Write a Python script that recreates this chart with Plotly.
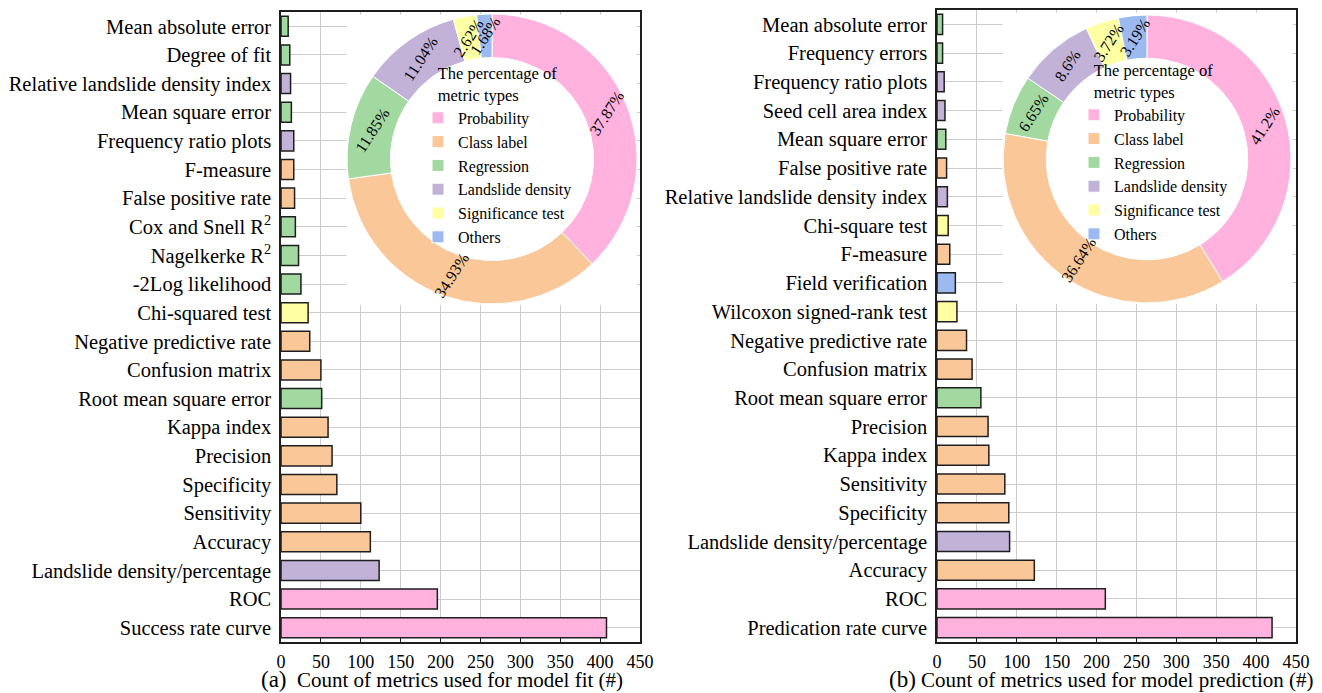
import math
import plotly.graph_objects as go

# ---------------- data ----------------
fit_metrics = [
    "Mean absolute error", "Degree of fit", "Relative landslide density index",
    "Mean square error", "Frequency ratio plots", "F-measure", "False positive rate",
    "Cox and Snell R<sup>2</sup>", "Nagelkerke R<sup>2</sup>", "-2Log likelihood",
    "Chi-squared test", "Negative predictive rate", "Confusion matrix",
    "Root mean square error", "Kappa index", "Precision", "Specificity",
    "Sensitivity", "Accuracy", "Landslide density/percentage", "ROC",
    "Success rate curve",
]
fit_counts = [9, 11, 12, 13, 16, 16, 17, 18, 22, 25, 34, 36, 50, 51, 59, 64, 70,
              100, 112, 123, 196, 408]
fit_types = [
    "Regression", "Regression", "Landslide density", "Regression", "Landslide density",
    "Class label", "Class label", "Regression", "Regression", "Regression",
    "Significance test", "Class label", "Class label", "Regression", "Class label",
    "Class label", "Class label", "Class label", "Class label", "Landslide density",
    "Probability", "Probability",
]

pred_metrics = [
    "Mean absolute error", "Frequency errors", "Frequency ratio plots",
    "Seed cell area index", "Mean square error", "False positive rate",
    "Relative landslide density index", "Chi-square test", "F-measure",
    "Field verification", "Wilcoxon signed-rank test", "Negative predictive rate",
    "Confusion matrix", "Root mean square error", "Precision", "Kappa index",
    "Sensitivity", "Specificity", "Landslide density/percentage", "Accuracy", "ROC",
    "Predication rate curve",
]
pred_counts = [7, 7, 9, 10, 11, 12, 13, 14, 16, 23, 25, 37, 44, 55, 64, 65, 85, 90,
               91, 122, 211, 420]
pred_types = [
    "Regression", "Regression", "Landslide density", "Landslide density", "Regression",
    "Class label", "Landslide density", "Significance test", "Class label", "Others",
    "Significance test", "Class label", "Class label", "Regression", "Class label",
    "Class label", "Class label", "Class label", "Landslide density", "Class label",
    "Probability", "Probability",
]

type_names = ["Probability", "Class label", "Regression", "Landslide density",
              "Significance test", "Others"]
type_colors = ["#FFB2DD", "#FAC898", "#A2D9A0", "#C3B2D8", "#FFFFA4", "#9DBAF0"]
fit_share = [37.87, 34.93, 11.85, 11.04, 2.62, 1.68]
pred_share = [41.2, 36.64, 6.65, 8.6, 3.72, 3.19]

x_ticks = [0, 50, 100, 150, 200, 250, 300, 350, 400, 450]

# ---------------- layout geometry ----------------
W, H = 1322, 693
FONT = "Liberation Serif"
color_of = dict(zip(type_names, type_colors))


def px_x(p):
    return p / W


def px_y(p):
    return 1 - p / H


fig = go.Figure()

fig.add_trace(go.Bar(
    x=fit_counts, y=fit_metrics, orientation="h", width=0.7,
    marker=dict(color=[color_of[t] for t in fit_types],
                line=dict(color="#1e1e1e", width=1.5)),
    showlegend=False, xaxis="x", yaxis="y", hoverinfo="x+y",
))
fig.add_trace(go.Bar(
    x=pred_counts, y=pred_metrics, orientation="h", width=0.7,
    marker=dict(color=[color_of[t] for t in pred_types],
                line=dict(color="#1e1e1e", width=1.5)),
    showlegend=False, xaxis="x2", yaxis="y2", hoverinfo="x+y",
))

# donut geometry (pixels)
pies = [
    dict(share=fit_share, cx=492, cy=159, r=145, legend="legend", group="fit"),
    dict(share=pred_share, cx=1147, cy=159, r=144, legend="legend2", group="pred"),
]
HOLE = 0.70
annotations = []
for p in pies:
    fig.add_trace(go.Pie(
        labels=type_names, values=p["share"], hole=HOLE, sort=False,
        direction="clockwise", rotation=0,
        marker=dict(colors=type_colors, line=dict(color="white", width=1)),
        textinfo="none", hoverinfo="label+value",
        domain=dict(x=[px_x(p["cx"] - p["r"]), px_x(p["cx"] + p["r"])],
                    y=[px_y(p["cy"] + p["r"]), px_y(p["cy"] - p["r"])]),
        legend=p["legend"], legendgroup=p["group"], showlegend=True,
    ))
    # percentage labels, placed at the middle of each ring segment
    total = sum(p["share"])
    cum = 0.0
    rmid = p["r"] * (1 + HOLE) / 2
    for s in p["share"]:
        ang = (cum + s / 2) / total * 2 * math.pi
        cum += s
        annotations.append(dict(
            x=px_x(p["cx"] + rmid * math.sin(ang)),
            y=px_y(p["cy"] - rmid * math.cos(ang)),
            xref="paper", yref="paper", xanchor="center", yanchor="middle",
            text=f"{s}%", textangle=-57, showarrow=False,
            font=dict(family=FONT, size=16, color="black"),
        ))

annotations.append(dict(
    x=px_x(442), y=px_y(679), xref="paper", yref="paper", showarrow=False,
    xanchor="center", yanchor="middle",
    text="<span style='font-size:23px'>(a)</span>  Count of metrics used for model fit (#)",
    font=dict(family=FONT, size=21, color="black"),
))
annotations.append(dict(
    x=px_x(1101), y=px_y(679), xref="paper", yref="paper", showarrow=False,
    xanchor="center", yanchor="middle",
    text="<span style='font-size:23px'>(b)</span> Count of metrics used for model prediction (#)",
    font=dict(family=FONT, size=21, color="black"),
))

axis_common = dict(showline=True, linecolor="#1e1e1e", linewidth=1.5, mirror=True,
                   showgrid=True, gridcolor="#cccccc", gridwidth=1, zeroline=False,
                   automargin=False)
xaxis_common = dict(axis_common, range=[0, 450], tickvals=x_ticks, ticks="inside",
                    ticklen=5, tickcolor="#1e1e1e", ticklabelstandoff=3,
                    tickfont=dict(family=FONT, size=18, color="black"))
yaxis_common = dict(axis_common, autorange="reversed", type="category", ticks="",
                    ticklabelstandoff=4,
                    tickfont=dict(family=FONT, size=20.5, color="black"))

legend_common = dict(
    xanchor="left", yanchor="top", bgcolor="rgba(0,0,0,0)",
    font=dict(family=FONT, size=16, color="black"),
    title=dict(text="The percentage of<br>metric types", side="top center",
               font=dict(family=FONT, size=16.5, color="black")),
    itemclick=False, itemdoubleclick=False,
)

# white panel behind each donut (hides the grid there), in axis units
cover_fit = dict(x0=82, x1=446, y0=-0.4, y1=9.73)
cover_pred = dict(x0=82, x1=446, y0=-0.4, y1=9.73)

fig.update_layout(
    width=W, height=H, margin=dict(l=0, r=0, t=0, b=0),
    paper_bgcolor="white", plot_bgcolor="white", template="none",
    font=dict(family=FONT, color="black"),
    xaxis=dict(xaxis_common, domain=[px_x(281), px_x(640)], anchor="y"),
    yaxis=dict(yaxis_common, domain=[px_y(642), px_y(12)], anchor="x"),
    xaxis2=dict(xaxis_common, domain=[px_x(937), px_x(1296)], anchor="y2"),
    yaxis2=dict(yaxis_common, domain=[px_y(642), px_y(10)], anchor="x2"),
    legend=dict(legend_common, x=px_x(418), y=px_y(58)),
    legend2=dict(legend_common, x=px_x(1074), y=px_y(55)),
    annotations=annotations,
    shapes=[
        dict(type="rect", xref="x", yref="y", layer="between",
             fillcolor="white", line=dict(width=0), **cover_fit),
        dict(type="rect", xref="x2", yref="y2", layer="between",
             fillcolor="white", line=dict(width=0), **cover_pred),
    ],
)

fig.write_html("out.html", config={"displayModeBar": False},
               post_script="document.body.style.margin='0px';")
